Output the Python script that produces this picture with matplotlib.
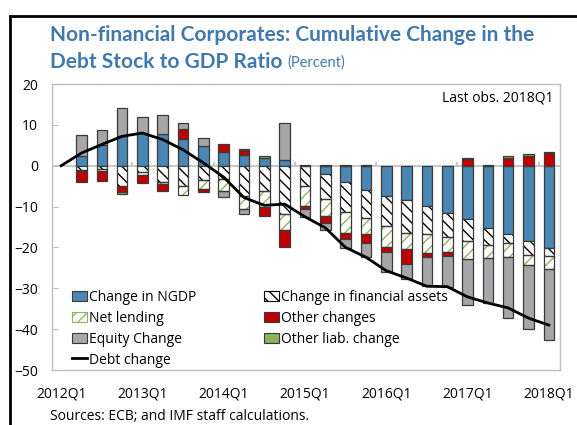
import matplotlib
matplotlib.use("Agg")
import matplotlib.pyplot as plt
import numpy as np
from matplotlib.patches import Patch
from matplotlib.lines import Line2D

# ---------------- data ----------------
quarters = ["2012Q1", "2012Q2", "2012Q3", "2012Q4",
            "2013Q1", "2013Q2", "2013Q3", "2013Q4",
            "2014Q1", "2014Q2", "2014Q3", "2014Q4",
            "2015Q1", "2015Q2", "2015Q3", "2015Q4",
            "2016Q1", "2016Q2", "2016Q3", "2016Q4",
            "2017Q1", "2017Q2", "2017Q3", "2017Q4",
            "2018Q1"]

ngdp = [0, 2.5, 5.1, 7.2, 8.0, 7.8, 6.6, 4.9, 3.4, 2.6, 2.0, 1.4, 0.0,
        -2.0, -3.9, -6.0, -7.4, -8.4, -9.8, -11.5, -13.1, -15.2, -16.8, -18.4, -20.1]
fin_assets = [0, -1.0, -0.8, -4.9, -1.5, -3.9, -4.9, -3.6, -3.3, -7.5, -6.1, -11.9, -4.9,
              -6.1, -7.5, -6.7, -7.4, -8.0, -6.8, -6.0, -5.3, -4.3, -2.0, -3.5, -2.1]
net_lending = [0, -0.2, -0.6, 0, -0.8, -0.6, -2.3, -2.1, -2.9, -3.1, -4.1, -3.9, -4.9,
               -4.1, -5.1, -4.1, -5.1, -3.9, -4.7, -3.7, -4.5, -3.0, -3.5, -2.5, -3.0]
other_changes = [0, -2.9, -2.4, -1.6, -2.0, -1.8, 2.4, -0.8, 1.8, 1.2, -2.0, -4.1, -0.8,
                 -1.9, -1.4, -2.0, -1.2, -3.8, -1.0, -0.8, 1.6, 0, 2.0, 2.5, 3.0]
equity_change = [0, 4.9, 3.7, 6.9, 3.9, 4.5, 1.4, 1.8, -1.4, -1.2, 0, 9.0, -2.0,
                 -1.6, -2.3, -3.5, -4.8, -3.6, -7.2, -7.6, -11.1, -11.2, -14.9, -15.6, -17.5]
other_liab = [0, 0, 0, -0.5, 0, 0, 0, 0, 0, 0.2, 0.4, 0, 0.2,
              0.2, 0.2, 0.2, 0, 0, 0, 0, 0.2, 0.2, 0.4, 0.4, 0.4]
debt_change = [0, 3.1, 5.2, 7.2, 8.0, 6.4, 3.9, 0.7, -2.8, -7.8, -9.7, -9.4, -12.5,
               -15.2, -20.0, -22.4, -25.7, -27.5, -29.5, -29.6, -32.1, -33.6, -34.8, -37.3, -39.0]

series_names = ["Change in NGDP", "Change in financial assets", "Net lending",
                "Other changes", "Equity Change", "Other liab. change"]

# ---------------- style ----------------
W, H = 577, 425
BLUE = "#4A87B5"
RED = "#C00000"
GRAY = "#A6A6A8"
GREEN = "#8DB35F"
HGREEN = "#8DB35F"
EDGE = "#3A3A3A"
AXC = "#BFBFBF"
TITLEC = "#4179AE"
FONT = ["Open Sans", "DejaVu Sans"]

plt.rcParams["font.family"] = FONT
plt.rcParams["hatch.linewidth"] = 1.0

fig = plt.figure(figsize=(W / 100, H / 100), dpi=100)


def fx(px):
    return px / W


def fy(py):
    return 1 - py / H


ax = fig.add_axes([fx(52), fy(370), fx(560) - fx(52), fy(84) - fy(370)])

styles = [
    dict(fc=BLUE, hatch=None, hc=None),
    dict(fc="white", hatch="\\\\\\", hc="black"),
    dict(fc="white", hatch="///", hc=HGREEN),
    dict(fc=RED, hatch=None, hc=None),
    dict(fc=GRAY, hatch=None, hc=None),
    dict(fc=GREEN, hatch=None, hc=None),
]
series = [ngdp, fin_assets, net_lending, other_changes, equity_change, other_liab]

x = np.arange(len(quarters))
pos = np.zeros(len(x))
neg = np.zeros(len(x))
bw = 0.52
for vals, st in zip(series, styles):
    v = np.array(vals, dtype=float)
    bottom = np.where(v >= 0, pos, neg)
    pos = pos + np.where(v > 0, v, 0)
    neg = neg + np.where(v < 0, v, 0)
    m = v != 0
    if st["hatch"]:
        ax.bar(x[m], v[m], bw, bottom=bottom[m], facecolor=st["fc"],
               edgecolor=st["hc"], hatch=st["hatch"], linewidth=0, zorder=3)
        ax.bar(x[m], v[m], bw, bottom=bottom[m], fill=False,
               edgecolor=EDGE, linewidth=0.9, zorder=4)
    else:
        ax.bar(x[m], v[m], bw, bottom=bottom[m], facecolor=st["fc"],
               edgecolor=EDGE, linewidth=0.9, zorder=3)

ax.plot(x, debt_change, color="black", lw=2.0, zorder=6)

# zero line and year separators
ax.axhline(0, color=AXC, lw=1.2, zorder=1)
ax.vlines(np.arange(3.5, len(x), 4), 0, 0.9, color=AXC, lw=1.2, zorder=1)

ax.set_xlim(-0.45, 24.55)
ax.set_ylim(-50, 20)
ax.set_yticks(np.arange(-50, 21, 10))
ax.set_xticks(x[::4])
ax.set_xticklabels(quarters[::4])
for s in ax.spines.values():
    s.set_color(AXC)
    s.set_linewidth(1.0)
ax.tick_params(axis="y", direction="in", length=4, color=AXC, labelsize=10, pad=10)
ax.tick_params(axis="x", length=0, labelsize=10, pad=12)

ax.text(0.988, 0.952, "Last obs. 2018Q1", transform=ax.transAxes,
        ha="right", va="center", fontsize=10)

# legend
hatch_kw = dict(linewidth=0.8)
h_ngdp = Patch(facecolor=BLUE, edgecolor=EDGE, **hatch_kw)
h_fin = Patch(facecolor="white", edgecolor="black", hatch="\\\\\\", **hatch_kw)
h_nl = Patch(facecolor="white", edgecolor=HGREEN, hatch="///", **hatch_kw)
h_oth = Patch(facecolor=RED, edgecolor=EDGE, **hatch_kw)
h_eq = Patch(facecolor=GRAY, edgecolor=EDGE, **hatch_kw)
h_ol = Patch(facecolor=GREEN, edgecolor=EDGE, **hatch_kw)
h_debt = Line2D([], [], color="black", lw=2.0)
handles = [h_ngdp, h_nl, h_eq, h_debt, h_fin, h_oth, h_ol]
labels = [series_names[0], series_names[2], series_names[4], "Debt change",
          series_names[1], series_names[3], series_names[5]]
leg = ax.legend(handles, labels, ncol=2, loc="upper left",
                bbox_to_anchor=((72 - 52) / 508, (370 - 290) / 286),
                frameon=False, fontsize=10, handlelength=1.05, handleheight=0.8,
                handletextpad=0.15, labelspacing=0.42, columnspacing=4.9,
                borderpad=0, borderaxespad=0)

# title
TFONT = ["Lato", "DejaVu Sans"]
t1 = fig.text(fx(50), fy(35), "Non-financial Corporates: Cumulative Change in the",
              fontsize=15, fontweight="bold", color=TITLEC, family=TFONT,
              ha="left", va="center")
t2 = fig.text(fx(50), fy(62), "Debt Stock to GDP Ratio", fontsize=15, fontweight="bold",
              color=TITLEC, family=TFONT, ha="left", va="center")
fig.canvas.draw()
r = fig.canvas.get_renderer()
bb = t2.get_window_extent(r)
fig.text((bb.x1 + 5) / W, fy(63), "(Percent)", fontsize=10.5, color=TITLEC,
         family=TFONT, ha="left", va="center")

fig.text(fx(50), fy(416), "Sources: ECB; and IMF staff calculations.", fontsize=10,
         ha="left", va="center")

# outer frame (left and top edges)
fig.add_artist(Line2D([fx(10), fx(10)], [0, fy(16)], color="black", lw=2.0,
                      transform=fig.transFigure))
fig.add_artist(Line2D([fx(10), 1], [fy(16), fy(16)], color="black", lw=2.0,
                      transform=fig.transFigure))

fig.savefig("out.png", dpi=100)
